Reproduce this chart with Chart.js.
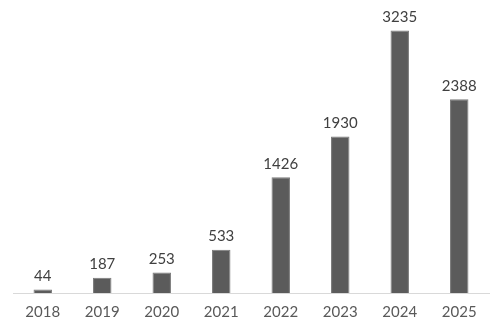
<!DOCTYPE html>
<html>
<head>
<meta charset="utf-8">
<script src="https://cdn.jsdelivr.net/npm/chart.js@4"></script>
<style>
  html, body { margin: 0; padding: 0; background: #fff; }
  #wrap { width: 499px; height: 328px; }
</style>
</head>
<body>
<div id="wrap"><canvas id="myChart"></canvas></div>
<script>
var years = ["2018", "2019", "2020", "2021", "2022", "2023", "2024", "2025"];
var counts = [44, 187, 253, 533, 1426, 1930, 3235, 2388];

// draws the value above each bar
var valueLabels = {
  id: "valueLabels",
  afterDatasetsDraw: function (chart) {
    var ctx = chart.ctx;
    var meta = chart.getDatasetMeta(0);
    ctx.save();
    ctx.font = "15px Lato";
    ctx.fillStyle = "#404040";
    ctx.textAlign = "center";
    ctx.textBaseline = "bottom";
    meta.data.forEach(function (bar, i) {
      ctx.fillText(counts[i], bar.x, bar.y - 6);
    });
    ctx.restore();
  }
};

var ctx = document.getElementById("myChart").getContext("2d");
var myChart = new Chart(ctx, {
  type: "bar",
  data: {
    labels: years,
    datasets: [
      {
        data: counts,
        backgroundColor: "#5b5b5b",
        borderColor: "#7a7a7a",
        borderWidth: 1,
        categoryPercentage: 1,
        barPercentage: 0.31
      }
    ]
  },
  options: {
    responsive: true,
    maintainAspectRatio: false,
    animation: false,
    layout: { padding: { top: 9, left: 13, right: 10, bottom: -3 } },
    plugins: { legend: { display: false }, tooltip: { enabled: false } },
    scales: {
      x: {
        grid: { display: false, drawTicks: false },
        border: { color: "#d9d9d9", width: 1 },
        ticks: { color: "#595959", font: { family: "Lato", size: 15 }, padding: 10 }
      },
      y: {
        display: false,
        min: 0,
        max: 3500
      }
    }
  },
  plugins: [valueLabels]
});
</script>
</body>
</html>
